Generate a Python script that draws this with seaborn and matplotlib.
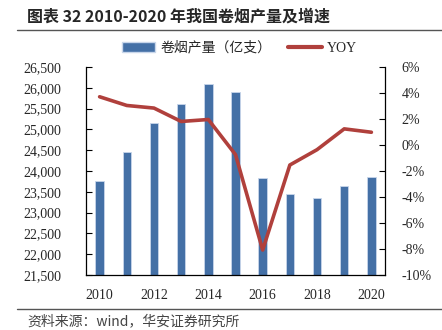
import numpy as np
import pandas as pd
import matplotlib
matplotlib.use("Agg")
import matplotlib.pyplot as plt
import seaborn as sns
from matplotlib.lines import Line2D
from matplotlib.patches import Patch
from matplotlib.ticker import FuncFormatter

years = ["2010", "2011", "2012", "2013", "2014", "2015", "2016", "2017", "2018", "2019", "2020"]
output = [23750, 24460, 25150, 25600, 26100, 25890, 23820, 23450, 23350, 23640, 23860]
yoy = [3.71, 3.04, 2.84, 1.81, 1.96, -0.74, -8.08, -1.54, -0.36, 1.24, 0.98]
bar_label = "卷烟产量（亿支）"
line_label = "YOY"
title = "图表 32 2010-2020 年我国卷烟产量及增速"
source = "资料来源：wind，华安证券研究所"

sns.set_style("white")
plt.rcParams['font.family'] = ['Liberation Serif', 'Noto Sans CJK SC']

bar_color = "#4470A6"
line_color = "#B0403C"

fig = plt.figure(figsize=(4.42, 3.30), dpi=100)
ax = fig.add_axes([0.1946, 0.1667, 0.871 - 0.1946, 0.797 - 0.1667])

df = pd.DataFrame({"year": years, "output": output, "yoy": yoy})
sns.barplot(data=df, x="year", y="output", ax=ax, color=bar_color, width=0.31,
            saturation=1, edgecolor="#C8D6EA", linewidth=0.6)
ax.set_ylim(21500, 26500)
ax.set_yticks(np.arange(21500, 26501, 500))
ax.yaxis.set_major_formatter(FuncFormatter(lambda v, p: f"{int(v):,}"))
ax.set_xlim(-0.5, 10.5)
ax.set_xticks(range(0, 11, 2))
ax.set_xticklabels(years[::2])
ax.set_xticks(np.arange(0.5, 10.5, 1), minor=True)
ax.set_xlabel("")
ax.set_ylabel("")
ax.tick_params(axis='x', which='major', length=0, pad=10, labelsize=10)
ax.tick_params(axis='x', which='minor', direction='in', length=3, width=0.8, color='black')
ax.tick_params(axis='y', direction='in', length=4, width=0.8, color='black', labelsize=10, pad=18)
for s in ['left', 'bottom']:
    ax.spines[s].set_color('black')
    ax.spines[s].set_linewidth(0.9)
ax.spines['top'].set_visible(False)
ax.spines['right'].set_visible(False)

ax2 = ax.twinx()
sns.lineplot(x=np.arange(len(years)), y=yoy, ax=ax2, color=line_color, linewidth=2.6)
ax2.set_ylim(-10, 6)
ax2.set_yticks(np.arange(-10, 7, 2))
ax2.yaxis.set_major_formatter(FuncFormatter(lambda v, p: f"{int(v)}%"))
ax2.tick_params(axis='y', direction='in', length=4, width=0.8, color='black', labelsize=10, pad=12)
ax2.spines['right'].set_color('black')
ax2.spines['right'].set_linewidth(0.9)
for s in ['left', 'top', 'bottom']:
    ax2.spines[s].set_visible(False)
ax2.set_xlim(-0.5, 10.5)

handles = [Patch(facecolor=bar_color, edgecolor="#C8D6EA"),
           Line2D([0], [0], color=line_color, lw=3)]
fig.legend(handles, [bar_label, line_label], loc='center', bbox_to_anchor=(0.542, 0.855),
           ncol=2, frameon=False, handlelength=2.4, handleheight=0.7,
           columnspacing=1.2, handletextpad=0.4,
           prop={'family': ['Liberation Serif', 'Noto Sans CJK SC'], 'size': 10})

fig.text(0.061, 0.951, title, fontsize=11.5, fontweight='bold',
         family=['Noto Sans CJK SC'], va='center', ha='left')
fig.add_artist(Line2D([0.038, 1.0], [0.909, 0.909], color='#555555', lw=1.0))
fig.add_artist(Line2D([0.038, 1.0], [0.064, 0.064], color='#555555', lw=1.0))
fig.text(0.061, 0.027, source, fontsize=10, color='#444444',
         family=['Noto Sans CJK SC', 'DejaVu Sans'], va='center', ha='left')

fig.savefig("out.png", dpi=100)
